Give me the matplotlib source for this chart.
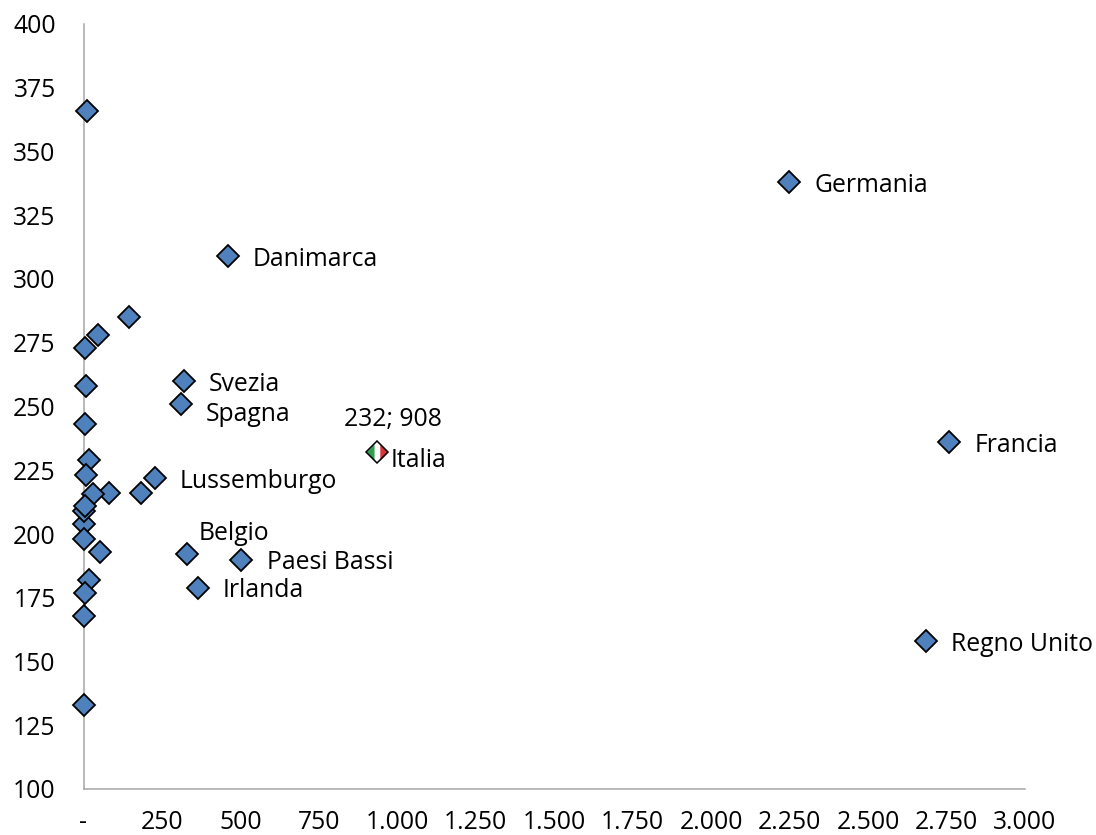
import matplotlib
matplotlib.use("Agg")
import matplotlib.pyplot as plt
from matplotlib.path import Path

plt.rcParams['font.family'] = ['Open Sans', 'DejaVu Sans']

# diamonds, later ones are drawn on top
x_values = [10, 2247, 460, 145, 46, 5, 320, 8, 310, 5, 18, 8, 81, 30, 183, 228,
            2, 0, 5, 1, 53, 330, 18, 2, 5, 0, 502, 365, 2684, 2757]
y_values = [366, 338, 309, 285, 278, 273, 260, 258, 251, 243, 229, 223, 216, 215.7, 216, 222,
            204, 209, 211, 198, 193, 192, 182, 168, 177, 133, 190, 179, 158, 236]

italy_x = 935
italy_y = 232

x_ticks = [0, 250, 500, 750, 1000, 1250, 1500, 1750, 2000, 2250, 2500, 2750, 3000]
x_tick_labels = ['-', '250', '500', '750', '1.000', '1.250', '1.500', '1.750',
                 '2.000', '2.250', '2.500', '2.750', '3.000']
y_ticks = [100, 125, 150, 175, 200, 225, 250, 275, 300, 325, 350, 375, 400]

# name, x, y of the labelled countries
label_names = ['Germania', 'Danimarca', 'Svezia', 'Spagna', 'Lussemburgo', 'Belgio',
               'Paesi Bassi', 'Irlanda', 'Regno Unito', 'Francia']
label_x = [2247, 460, 320, 310, 228, 330, 502, 365, 2684, 2757]
label_y = [338, 309, 260, 251, 222, 192, 190, 179, 158, 236]
# offset of each label from its marker, in pixels
label_dx = [26, 25, 25, 25, 25, 12, 26, 25, 25, 26]
label_dy = [-3, -3, -4, -11, -4, 21, -3, -3, -3, -3]

W, H = 1096, 835
fig = plt.figure(figsize=(W / 100, H / 100), dpi=100)
ax = fig.add_axes([83.5 / W, 1 - 789 / H, (1025 - 83.5) / W, (789 - 24) / H])
ax.set_xlim(0, 3000)
ax.set_ylim(100, 400)

for side in ['top', 'right']:
    ax.spines[side].set_visible(False)
for side in ['left', 'bottom']:
    ax.spines[side].set_color('#a6a6a6')
    ax.spines[side].set_linewidth(1.1)

ax.set_xticks(x_ticks)
ax.set_xticklabels(x_tick_labels)
ax.set_yticks(y_ticks)
ax.tick_params(length=0, labelsize=17.8, labelcolor='black')
ax.tick_params(axis='x', pad=15)
ax.tick_params(axis='y', pad=20)

ax.plot(x_values, y_values, linestyle='none', marker='D', markersize=11.3,
        markerfacecolor='#4f81bd', markeredgecolor='black', markeredgewidth=1.3,
        clip_on=False, zorder=3)

# Italy marker is a diamond with the flag inside
s = 1 / 4
green = Path([(-1, 0), (-s, 1 - s), (-s, -(1 - s)), (-1, 0)])
white = Path([(-s, 1 - s), (0, 1), (s, 1 - s), (s, -(1 - s)), (0, -1), (-s, -(1 - s)), (-s, 1 - s)])
red = Path([(s, 1 - s), (1, 0), (s, -(1 - s)), (s, 1 - s)])
for stripe, col in [(green, '#2e9e4f'), (white, 'white'), (red, '#d8343a')]:
    ax.plot([italy_x], [italy_y], linestyle='none', marker=stripe, markersize=16,
            markerfacecolor=col, markeredgecolor='none', zorder=4)
ax.plot([italy_x], [italy_y], linestyle='none', marker='D', markersize=11.3,
        markerfacecolor='none', markeredgecolor='black', markeredgewidth=1.1, zorder=5)

for name, lx, ly, dx, dy in zip(label_names, label_x, label_y, label_dx, label_dy):
    ax.annotate(name, (lx, ly), xytext=(dx * 0.72, dy * 0.72), textcoords='offset points',
                fontsize=17.8, va='center', ha='left', color='black')

ax.annotate('Italia', (italy_x, italy_y), xytext=(14 * 0.72, -8 * 0.72),
            textcoords='offset points', fontsize=17.8, va='center', ha='left')
ax.annotate('232; 908', (italy_x, italy_y), xytext=(16 * 0.72, 33 * 0.72),
            textcoords='offset points', fontsize=17.8, va='center', ha='center')

fig.savefig('out.png', dpi=100)
